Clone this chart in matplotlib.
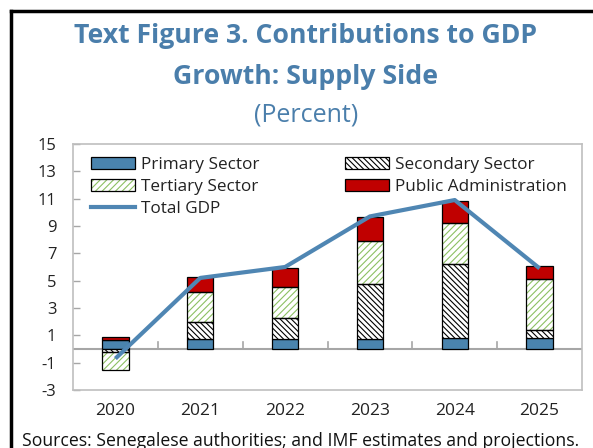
import matplotlib
matplotlib.use("Agg")
import matplotlib.pyplot as plt
import numpy as np
from matplotlib.patches import Patch
from matplotlib.lines import Line2D
from matplotlib.legend_handler import HandlerTuple

plt.rcParams['font.family'] = ['Open Sans', 'DejaVu Sans']
plt.rcParams['hatch.linewidth'] = 0.8

years = ["2020", "2021", "2022", "2023", "2024", "2025"]
primary = [0.65, 0.7, 0.75, 0.75, 0.8, 0.8]
secondary = [-0.2, 1.3, 1.55, 4.0, 5.45, 0.6]
tertiary = [-1.35, 2.15, 2.25, 3.15, 3.0, 3.7]
public_admin = [0.2, 1.1, 1.4, 1.75, 1.55, 0.95]
total_gdp = [-0.7, 5.2, 6.0, 9.7, 10.9, 5.9]

BLUE = "#4A84AE"
LINE_BLUE = "#4F86B3"
RED = "#C00000"
GREEN = "#8CC063"
TITLE_BLUE = "#4A7EAB"
SEC_HATCH = "\\" * 6
TER_HATCH = "/" * 5

fig = plt.figure(figsize=(5.93, 4.48), dpi=100)
ax = fig.add_axes([73 / 593, 1 - 390 / 448, (582 - 73) / 593, (390 - 144) / 448])

x = np.arange(len(years))
width = 0.31

series = [
    (primary, dict(facecolor=BLUE, hatch=None, hcolor=None)),
    (secondary, dict(facecolor="white", hatch=SEC_HATCH, hcolor="black")),
    (tertiary, dict(facecolor="white", hatch=TER_HATCH, hcolor=GREEN)),
    (public_admin, dict(facecolor=RED, hatch=None, hcolor=None)),
]

pos_base = np.zeros(len(years))
neg_base = np.zeros(len(years))
for vals, st in series:
    vals = np.array(vals, dtype=float)
    bottoms = np.where(vals >= 0, pos_base, neg_base)
    if st["hatch"]:
        ax.bar(x, vals, width, bottom=bottoms, facecolor="white",
               edgecolor=st["hcolor"], hatch=st["hatch"], linewidth=0, zorder=2)
        ax.bar(x, vals, width, bottom=bottoms, facecolor="none",
               edgecolor="black", linewidth=0.9, zorder=2.1)
    else:
        ax.bar(x, vals, width, bottom=bottoms, facecolor=st["facecolor"],
               edgecolor="black", linewidth=0.9, zorder=2)
    pos_base = pos_base + np.where(vals >= 0, vals, 0)
    neg_base = neg_base + np.where(vals < 0, vals, 0)

ax.plot(x, total_gdp, color=LINE_BLUE, linewidth=3, zorder=3, solid_capstyle="butt")

ax.axhline(0, color="#A6A6A6", linewidth=1.5, zorder=1.5)
# category separators along the zero line
for b in np.arange(0.5, len(years) - 0.5, 1.0):
    ax.plot([b, b], [0, 0.5], color="#A6A6A6", linewidth=1.2, zorder=1.5)

ax.set_xlim(-0.5, len(years) - 0.5)
ax.set_ylim(-3, 15)
ax.set_yticks(np.arange(-3, 16, 2))
ax.set_yticklabels([str(v) for v in np.arange(-3, 16, 2)], fontsize=12, color="#222222")
ax.set_xticks(x)
ax.set_xticklabels(years, fontsize=12.5, color="#222222")
ax.tick_params(axis="x", length=0, pad=9)
ax.tick_params(axis="y", direction="in", length=5, color="#A6A6A6", width=1, pad=12)
for s in ax.spines.values():
    s.set_color("#BFBFBF")
    s.set_linewidth(1.2)

# legend handles
h_primary = Patch(facecolor=BLUE, edgecolor="black", linewidth=0.9)
h_second = (Patch(facecolor="white", edgecolor="black", hatch=SEC_HATCH, linewidth=0),
            Patch(facecolor="none", edgecolor="black", linewidth=0.9))
h_tert = (Patch(facecolor="white", edgecolor=GREEN, hatch=TER_HATCH, linewidth=0),
          Patch(facecolor="none", edgecolor="black", linewidth=0.9))
h_pa = Patch(facecolor=RED, edgecolor="black", linewidth=0.9)
h_line = Line2D([], [], color=LINE_BLUE, linewidth=3)

handles = [h_primary, h_tert, h_line, h_second, h_pa]
labels = ["Primary Sector", "Tertiary Sector", "Total GDP",
          "Secondary Sector", "Public Administration"]
ax.legend(handles, labels, ncol=2, loc="upper left", bbox_to_anchor=(0.012, 0.997),
          frameon=False, fontsize=12.3, handlelength=2.55, handleheight=0.7,
          handletextpad=0.35, labelspacing=0.36, columnspacing=5.05,
          borderaxespad=0.3, labelcolor="#222222",
          handler_map={tuple: HandlerTuple(ndivide=1, pad=0)})

# titles
fig.text(0.516, 1 - 36 / 448, "Text Figure 3. Contributions to GDP", ha="center",
         va="center", fontsize=19.2, fontweight="bold", color=TITLE_BLUE)
fig.text(0.516, 1 - 77 / 448, "Growth: Supply Side", ha="center",
         va="center", fontsize=19.2, fontweight="bold", color=TITLE_BLUE)
fig.text(0.516, 1 - 115 / 448, "(Percent)", ha="center", va="center",
         fontsize=18, color=TITLE_BLUE)

fig.text(22 / 593, 1 - 441 / 448, "Sources: Senegalese authorities; and IMF estimates and projections.",
         ha="left", va="center", fontsize=12.7, color="#111111")

# page frame lines on the left and top
fig.add_artist(Line2D([11 / 593, 11 / 593], [0, 1 - 11 / 448], color="black",
                      linewidth=2.5, transform=fig.transFigure))
fig.add_artist(Line2D([11 / 593, 1], [1 - 11 / 448, 1 - 11 / 448], color="black",
                      linewidth=2.5, transform=fig.transFigure))

fig.savefig("out.png", dpi=100)
